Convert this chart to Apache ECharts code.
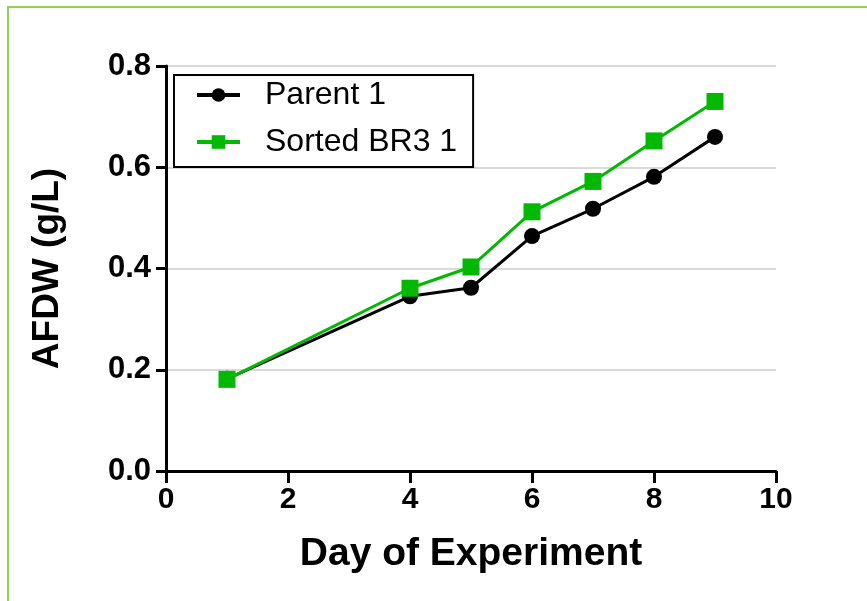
<!DOCTYPE html>
<html>
<head>
<meta charset="utf-8">
<script src="https://cdn.jsdelivr.net/npm/echarts@6/dist/echarts.min.js"></script>
<style>
html,body{margin:0;padding:0;background:#fff;}
#chart{width:867px;height:601px;}
</style>
</head>
<body>
<div id="chart"></div>
<script>
const days = [1, 4, 5, 6, 7, 8, 9];
const parent1 = [0.182, 0.345, 0.362, 0.464, 0.518, 0.581, 0.660];
const sortedBR3 = [0.181, 0.361, 0.403, 0.512, 0.572, 0.652, 0.730];
const seriesNames = ['Parent 1', 'Sorted BR3 1'];
const xTitle = 'Day of Experiment';
const yTitle = 'AFDW (g/L)';

const chart = echarts.init(document.getElementById('chart'), null, {renderer: 'canvas'});
const FONT = 'Liberation Sans, Arial, sans-serif';
const GREEN = '#00b900';

chart.setOption({
  animation: false,
  backgroundColor: '#fff',
  graphic: [
    {type: 'line', shape: {x1: 7, y1: 7, x2: 867, y2: 7}, style: {stroke: '#92d050', lineWidth: 2}},
    {type: 'line', shape: {x1: 8, y1: 6, x2: 8, y2: 601}, style: {stroke: '#92d050', lineWidth: 2}}
  ],
  grid: {left: 166, right: 91, top: 66, bottom: 130, containLabel: false},
  legend: {
    orient: 'vertical',
    left: 174, top: 75,
    borderColor: '#000', borderWidth: 2,
    padding: [2, 16, 7, 21],
    itemGap: 11,
    itemWidth: 43, itemHeight: 17,
    lineStyle: {width: 4},
    textStyle: {fontFamily: FONT, fontSize: 32, color: '#000', lineHeight: 36, padding: [0, 0, 0, 20]},
    data: seriesNames.map(n => ({name: n, lineStyle: {width: 4}}))
  },
  xAxis: {
    type: 'value', min: 0, max: 10, interval: 2,
    name: xTitle, nameLocation: 'middle', nameGap: 64,
    nameTextStyle: {fontFamily: FONT, fontSize: 39, fontWeight: 'bold', color: '#000'},
    axisLine: {show: true, lineStyle: {color: '#000', width: 3}},
    axisTick: {show: true, length: 12, lineStyle: {color: '#000', width: 3}},
    axisLabel: {fontFamily: FONT, fontSize: 30, fontWeight: 'bold', color: '#000', margin: 14},
    splitLine: {show: false}
  },
  yAxis: {
    type: 'value', min: 0, max: 0.8, interval: 0.2,
    name: yTitle, nameLocation: 'middle', nameGap: 100, nameRotate: 90,
    nameTextStyle: {fontFamily: FONT, fontSize: 37, fontWeight: 'bold', color: '#000'},
    axisLine: {show: true, lineStyle: {color: '#000', width: 3}},
    axisTick: {show: true, length: 10, lineStyle: {color: '#000', width: 3}},
    axisLabel: {fontFamily: FONT, fontSize: 31, fontWeight: 'bold', color: '#000', margin: 15,
      formatter: v => v.toFixed(1)},
    splitLine: {show: true, lineStyle: {color: '#d9d9d9', width: 2}}
  },
  series: [
    {
      name: seriesNames[0], type: 'line',
      data: days.map((d, i) => [d, parent1[i]]),
      symbol: 'circle', symbolSize: 16,
      itemStyle: {color: '#000'},
      lineStyle: {color: '#000', width: 3}
    },
    {
      name: seriesNames[1], type: 'line',
      data: days.map((d, i) => [d, sortedBR3[i]]),
      symbol: 'rect', symbolSize: 17,
      itemStyle: {color: GREEN},
      lineStyle: {color: GREEN, width: 3}
    }
  ]
});
</script>
</body>
</html>
